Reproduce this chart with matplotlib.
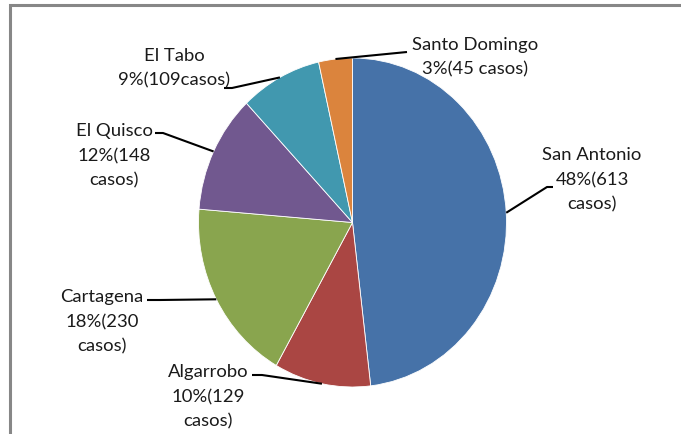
import numpy as np
import matplotlib
matplotlib.use("Agg")
import matplotlib.pyplot as plt

# data (clockwise from 12 o'clock)
comunas = ["San Antonio", "Algarrobo", "Cartagena", "El Quisco", "El Tabo", "Santo Domingo"]
casos = [613, 129, 230, 148, 109, 45]
etiquetas = [
    "San Antonio\n48%(613\ncasos)",
    "Algarrobo\n10%(129\ncasos)",
    "Cartagena\n18%(230\ncasos)",
    "El Quisco\n12%(148\ncasos)",
    "El Tabo\n9%(109casos)",
    "Santo Domingo\n3%(45 casos)",
]
colores = ["#4672A8", "#AA4643", "#89A54E", "#71588F", "#4198AF", "#DB843D"]

# label block centres and leader-line bends, in image pixels (top-left origin)
W, H = 681, 435
label_xy = [(592, 180), (208, 397), (102, 322), (114, 156), (174, 68), (475, 57)]
leader_pts = [
    [(547, 188), (553, 188)],
    [(262, 376), (252, 376)],
    [(160, 301), (147, 301)],
    [(163, 134), (155, 134)],
    [(232, 89), (224, 89)],
    [(407, 53)],
]

plt.rcParams["font.family"] = ["Lato", "DejaVu Sans"]

fig = plt.figure(figsize=(W / 100, H / 100), dpi=100)

# pie bbox in the picture is slightly taller than wide
pie_left, pie_right, pie_top, pie_bottom = 198.5, 506.5, 59, 388
ax = fig.add_axes([pie_left / W, 1 - pie_bottom / H,
                   (pie_right - pie_left) / W, (pie_bottom - pie_top) / H])
wedges, _ = ax.pie(casos, colors=colores, startangle=90, counterclock=False,
                   radius=1.0, wedgeprops=dict(edgecolor="white", linewidth=0.6))
ax.set_aspect("auto")
ax.set_xlim(-1, 1)
ax.set_ylim(-1, 1)
ax.axis("off")

# overlay for labels, leader lines and frame, in pixel units
ov = fig.add_axes([0, 0, 1, 1], zorder=5)
ov.set_xlim(0, W)
ov.set_ylim(H, 0)
ov.axis("off")
ov.patch.set_alpha(0)

fig.canvas.draw()
for w, lab, (tx, ty), bends in zip(wedges, etiquetas, label_xy, leader_pts):
    ang = np.deg2rad((w.theta1 + w.theta2) / 2)
    px, py = ax.transData.transform((np.cos(ang), np.sin(ang)))
    ex, ey = px, H - py
    xs = [ex] + [p[0] for p in bends]
    ys = [ey] + [p[1] for p in bends]
    ov.plot(xs, ys, color="black", lw=1.5, solid_capstyle="butt")
    ov.text(tx, ty, lab, ha="center", va="center", multialignment="center",
            fontsize=13.3, linespacing=1.64, color="#1a1a1a")

# chart-area frame (cut off at right and bottom)
ov.plot([9.5, 9.5, W], [H, 6, 6], color="#878787", lw=2.2, solid_joinstyle="miter")

fig.savefig("out.png", dpi=100)
